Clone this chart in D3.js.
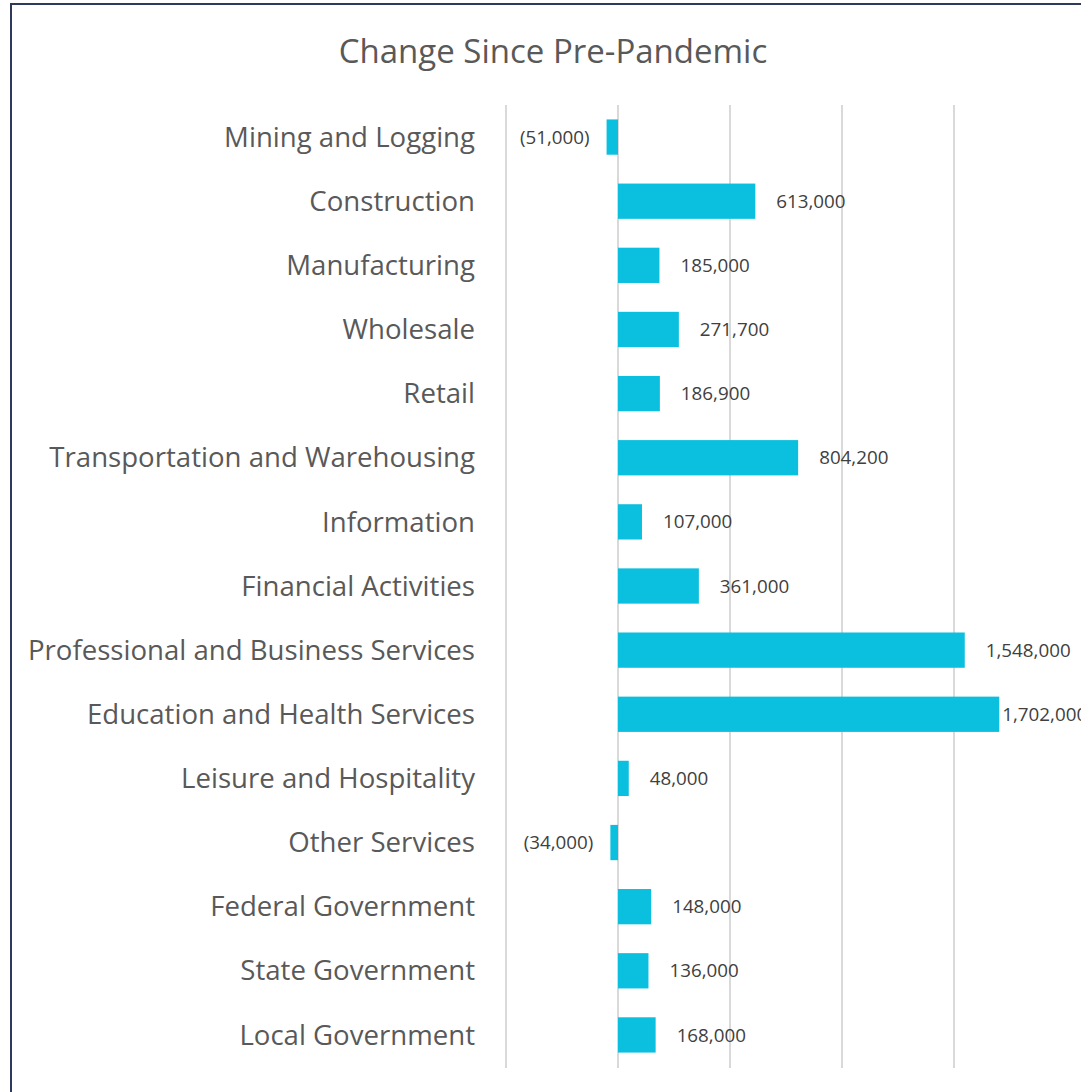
<!DOCTYPE html>
<html>
<head>
<meta charset="utf-8">
<script src="https://cdn.jsdelivr.net/npm/d3@7"></script>
<style>
  body { margin: 0; background: #fff; }
  svg { display: block; font-family: "Open Sans", sans-serif; }
</style>
</head>
<body>
<svg id="chart" width="1081" height="1092"></svg>
<script>
const categories = [
    "Mining and Logging", "Construction", "Manufacturing", "Wholesale", "Retail",
    "Transportation and Warehousing", "Information", "Financial Activities",
    "Professional and Business Services", "Education and Health Services",
    "Leisure and Hospitality", "Other Services", "Federal Government",
    "State Government", "Local Government"
];
const changes = [
    -51000, 613000, 185000, 271700, 186900, 804200, 107000, 361000,
    1548000, 1702000, 48000, -34000, 148000, 136000, 168000
];
const gridTicks = [-500000, 0, 500000, 1000000, 1500000];

const svg = d3.select("#chart");

// outer chart frame (right/bottom edges fall outside the picture)
svg.append("rect")
    .attr("x", 11).attr("y", 4)
    .attr("width", 1100).attr("height", 1120)
    .attr("fill", "none")
    .attr("stroke", "#2f3a5a")
    .attr("stroke-width", 2);

svg.append("text")
    .attr("x", 553).attr("y", 63)
    .attr("text-anchor", "middle")
    .attr("font-size", 33)
    .attr("fill", "#595959")
    .text("Change Since Pre-Pandemic");

const x = d3.scaleLinear()
    .domain([-500000, 2000000])
    .range([506, 1066]);

const y = d3.scaleBand()
    .domain(categories)
    .range([105, 1067])
    .paddingInner(0.45)
    .paddingOuter(0.225);

// vertical gridlines
svg.append("g")
    .selectAll("line")
    .data(gridTicks)
    .join("line")
    .attr("x1", d => x(d)).attr("x2", d => x(d))
    .attr("y1", 105).attr("y2", 1068)
    .attr("stroke", "#d9d9d9")
    .attr("stroke-width", 2);

const data = categories.map((c, i) => ({ name: c, value: changes[i] }));

svg.append("g")
    .selectAll("rect")
    .data(data)
    .join("rect")
    .attr("x", d => x(Math.min(0, d.value)))
    .attr("y", d => y(d.name))
    .attr("width", d => Math.abs(x(d.value) - x(0)))
    .attr("height", y.bandwidth())
    .attr("fill", "#0bbfde");

// category labels
svg.append("g")
    .selectAll("text")
    .data(data)
    .join("text")
    .attr("x", 475)
    .attr("y", d => y(d.name) + y.bandwidth() / 2)
    .attr("dy", "0.35em")
    .attr("text-anchor", "end")
    .attr("font-size", 27.6)
    .attr("fill", "#595959")
    .text(d => d.name);

// value labels, negatives shown in parentheses
const fmt = d3.format(",");
svg.append("g")
    .selectAll("text")
    .data(data)
    .join("text")
    .attr("x", d => {
        if (d.value < 0) return x(d.value) - 17;
        // label pulled close to the bar when it runs off the right edge
        return x(d.value) + (x(d.value) > 990 ? 3 : 21);
    })
    .attr("y", d => y(d.name) + y.bandwidth() / 2)
    .attr("dy", "0.35em")
    .attr("text-anchor", d => d.value < 0 ? "end" : "start")
    .attr("font-size", 18.8)
    .attr("fill", "#404040")
    .text(d => d.value < 0 ? `(${fmt(-d.value)})` : fmt(d.value));
</script>
</body>
</html>
